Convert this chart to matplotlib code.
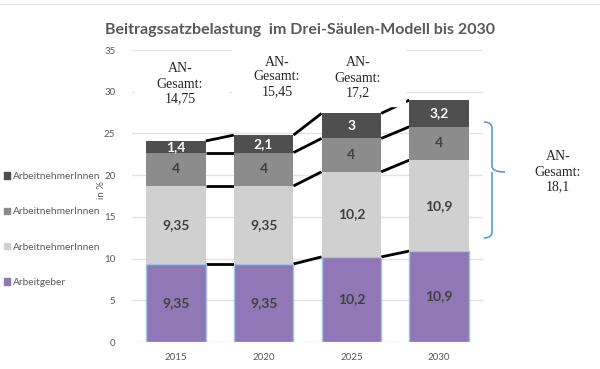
import numpy as np
import matplotlib
matplotlib.use("Agg")
import matplotlib.pyplot as plt
from matplotlib.patches import Rectangle, PathPatch
from matplotlib.path import Path
from matplotlib.lines import Line2D

# data
years = ["2015", "2020", "2025", "2030"]
arbeitgeber = [9.35, 9.35, 10.2, 10.9]
an_saeule1 = [9.35, 9.35, 10.2, 10.9]
an_saeule2 = [4, 4, 4, 4]
an_saeule3 = [1.4, 2.1, 3, 3.2]
legend_labels = ["Arbeitgeber", "ArbeitnehmerInnen", "ArbeitnehmerInnen", "ArbeitnehmerInnen"]

colors = ["#8f78b5", "#d0d0d0", "#8c8c8c", "#4f4f4f"]
label_colors = ["#404040", "#404040", "#404040", "white"]
gray_txt = "#595959"

plt.rcParams['font.family'] = ['Lato', 'DejaVu Sans']

W, H = 600, 369
fig = plt.figure(figsize=(6, 3.69), dpi=100)
ax = fig.add_axes([132 / W, 1 - 342 / H, 351 / W, (342 - 50) / H])

def px(x, y):
    # pixel coords -> figure fraction
    return x / W, 1 - y / H

series = [arbeitgeber, an_saeule1, an_saeule2, an_saeule3]
x = np.arange(len(years))
bw = 0.68
bottom = np.zeros(len(years))
tops = []
for i, vals in enumerate(series):
    vals = np.array(vals, dtype=float)
    ec = "#9dc3e6" if i == 0 else colors[i]
    ax.bar(x, vals, bw, bottom=bottom, color=colors[i], edgecolor=ec,
           linewidth=1.0 if i == 0 else 0, zorder=3)
    for xi, v, b0 in zip(x, vals, bottom):
        ax.text(xi, b0 + v / 2, f"{v:g}".replace(".", ","), ha="center", va="center",
                fontsize=10, fontweight="bold", color=label_colors[i], zorder=4)
    bottom = bottom + vals
    tops.append(bottom.copy())

# series lines between the bars
for t in tops:
    for i in range(len(years) - 1):
        ax.plot([x[i] + bw / 2, x[i + 1] - bw / 2], [t[i], t[i + 1]],
                color="black", lw=2, solid_capstyle="butt", zorder=2)

ax.set_xlim(-0.5, len(years) - 0.5)
ax.set_ylim(0, 35)
ax.set_yticks(range(0, 36, 5))
ax.set_xticks(x)
ax.set_xticklabels(years)
ax.tick_params(length=0, labelsize=7, colors=gray_txt, pad=12)
ax.tick_params(axis="x", pad=8)
ax.grid(axis="y", color="#e3e3e3", lw=1, zorder=0)
ax.set_axisbelow(True)
for s in ax.spines.values():
    s.set_visible(False)

fig.text(*px(101, 190), "in %", rotation=90, ha="center", va="center",
         fontsize=7, color=gray_txt)

# legend (top entry = top series)
handles = [Rectangle((0, 0), 1, 1, color=c) for c in colors][::-1]
leg = fig.legend(handles, legend_labels[::-1], loc="upper left",
                 bbox_to_anchor=px(0, 168), frameon=False, fontsize=7.3,
                 labelcolor=gray_txt, handlelength=0.6, handleheight=0.6,
                 handletextpad=0.3, labelspacing=2.6, borderaxespad=0)

# title
fig.text(*px(300, 30), "Beitragssatzbelastung  im Drei-Säulen-Modell bis 2030",
         ha="center", va="center", fontsize=11.5, fontweight="bold", color=gray_txt)

# white text boxes hiding gridlines, then AN-Gesamt annotations
for (x0, y0, x1, y1) in [(135, 58, 228, 130), (232, 45, 320, 106), (320, 45, 405, 106)]:
    fig.add_artist(Rectangle(px(x0, y1), (x1 - x0) / W, (y1 - y0) / H,
                             transform=fig.transFigure, color="white", zorder=5))

totals = [a + b + c for a, b, c in zip(an_saeule1, an_saeule2, an_saeule3)]
ann_pos = [(180, 84), (277, 77), (358, 78), (558, 172)]
for (tx, ty), tot in zip(ann_pos, totals):
    s = f"{round(tot, 2):g}".replace(".", ",")
    fig.text(*px(tx, ty), f"AN-\nGesamt:\n{s}", ha="center", va="center",
             fontsize=10, family="Liberation Serif", color="#262626",
             linespacing=1.2, zorder=6)

# brace
bx, tip = 492, 505
yt, ym, yb = 122, 172, 238
verts = [(484, yt), (492, yt), (bx, yt + 6), (bx, ym - 6), (bx, ym), (tip, ym),
         (bx, ym), (bx, ym + 6), (bx, yb - 6), (bx, yb), (484, yb)]
codes = [Path.MOVETO, Path.CURVE3, Path.CURVE3, Path.LINETO, Path.CURVE3, Path.CURVE3,
         Path.MOVETO, Path.CURVE3, Path.LINETO, Path.CURVE3, Path.CURVE3]
verts = [px(a, b) for a, b in verts]
fig.add_artist(PathPatch(Path(verts, codes), transform=fig.transFigure,
                         fill=False, edgecolor="#5b9bd5", lw=1.2, zorder=6))

# faint top border line
fig.add_artist(Line2D([0, 1], [1 - 4 / H, 1 - 4 / H], transform=fig.transFigure,
                      color="#e8e8e8", lw=1))

fig.savefig("out.png", dpi=100)
